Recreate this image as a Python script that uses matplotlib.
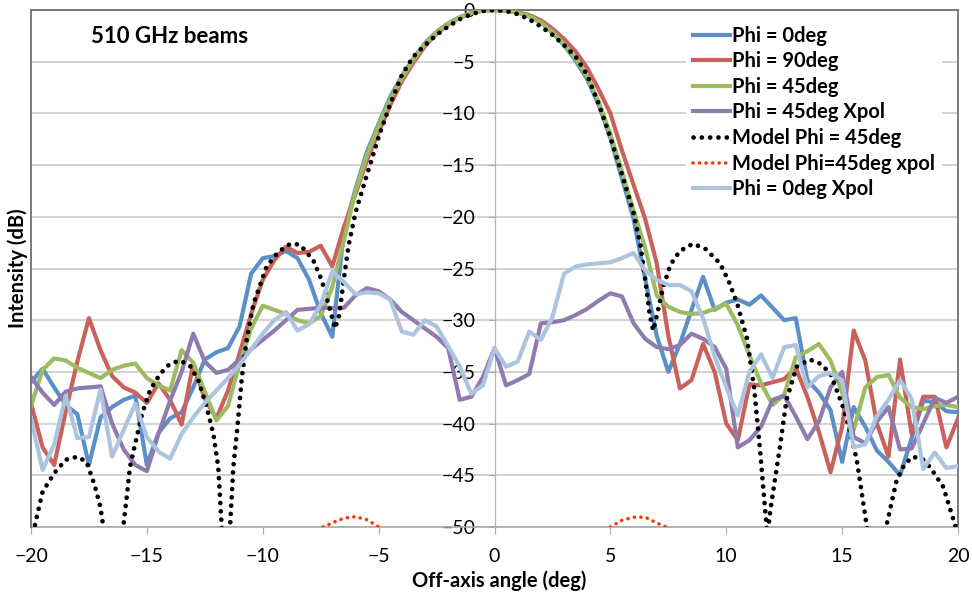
import numpy as np
import matplotlib
matplotlib.use("Agg")
import matplotlib.pyplot as plt

plt.rcParams['font.family'] = ['Lato', 'DejaVu Sans']

# measured angles: -20 .. 20 deg in 0.5 deg steps
angle = np.linspace(-20, 20, 81)

phi0 = [-36.0, -34.7, -36.5, -38.2, -39.1, -44.0, -39.4, -38.4, -37.7, -37.3,
        -44.0, -40.9, -39.5, -38.9, -36.5, -33.8, -33.1, -32.7, -30.6, -25.5,
        -24.0, -23.8, -23.3, -24.0, -26.1, -29.3, -31.6, -21.5, -17.3, -13.7,
        -11.0, -8.4, -6.4, -4.7, -3.2, -2.1, -1.3, -0.7, -0.3, -0.05,
        0.0,
        -0.05, -0.25, -0.6, -1.2, -2.2, -3.4, -4.9, -6.7, -9.2, -12.4,
        -16.3, -20.2, -26.0, -31.5, -35.0, -32.3, -29.0, -25.8, -29.0, -28.3,
        -28.0, -28.5, -27.6, -28.8, -30.0, -29.8, -35.8, -37.0, -38.7, -43.7,
        -38.4, -40.3, -42.6, -43.7, -45.0, -41.4, -37.8, -37.9, -38.8, -38.9]

phi90 = [-38.0, -42.3, -44.0, -38.8, -34.0, -29.8, -32.9, -35.4, -36.5, -37.0,
         -38.0, -36.1, -37.7, -40.1, -34.2, -37.6, -39.5, -36.8, -33.2, -29.4,
         -26.1, -24.2, -22.9, -23.5, -23.4, -22.8, -24.8, -21.0, -17.8, -14.5,
         -11.8, -9.2, -6.9, -5.1, -3.5, -2.3, -1.4, -0.75, -0.3, -0.05,
         0.0,
         -0.05, -0.2, -0.5, -1.0, -1.8, -2.8, -4.0, -5.6, -7.7, -10.0,
         -13.6, -16.9, -20.2, -24.5, -31.5, -36.6, -35.8, -32.3, -35.0, -40.0,
         -41.6, -36.2, -36.3, -36.0, -35.7, -34.6, -37.4, -40.8, -44.7, -40.3,
         -31.0, -33.9, -40.0, -43.2, -33.8, -41.0, -37.4, -37.4, -42.3, -39.5]

phi45 = [-38.3, -34.8, -33.7, -33.9, -34.6, -35.1, -35.6, -34.8, -34.4, -34.2,
         -35.6, -36.3, -36.8, -32.9, -34.1, -36.9, -39.7, -38.3, -34.2, -30.8,
         -28.6, -29.0, -29.4, -30.0, -30.3, -29.6, -26.8, -22.3, -17.5, -14.0,
         -11.2, -8.6, -6.6, -4.8, -3.3, -2.15, -1.3, -0.7, -0.3, -0.05,
         0.0,
         -0.05, -0.25, -0.6, -1.2, -2.1, -3.3, -4.7, -6.4, -8.9, -12.0,
         -15.6, -19.4, -23.0, -27.6, -28.7, -29.2, -29.4, -29.3, -28.9, -28.4,
         -30.5, -33.4, -36.1, -38.2, -37.2, -33.6, -33.0, -32.3, -33.9, -37.0,
         -40.6, -36.5, -35.5, -35.3, -37.5, -38.4, -38.6, -38.3, -38.2, -38.4]

phi45_xpol = [-35.5, -37.0, -38.2, -36.9, -36.6, -36.5, -36.4, -40.0, -42.5, -44.0,
              -44.6, -41.0, -37.8, -35.0, -31.3, -34.0, -35.1, -34.8, -33.8, -32.8,
              -31.9, -31.0, -30.0, -29.0, -28.9, -28.8, -28.8, -28.8, -27.6, -26.9,
              -27.2, -28.0, -29.2, -30.0, -30.8, -31.6, -32.7, -37.7, -37.4, -35.5,
              -32.7,
              -36.3, -35.8, -35.2, -30.3, -30.2, -30.0, -29.5, -28.9, -28.1, -27.4,
              -27.7, -30.3, -31.8, -32.6, -32.8, -32.4, -31.3, -31.8, -32.6, -34.7,
              -42.3, -41.6, -40.3, -37.7, -37.3, -39.3, -41.5, -39.8, -36.5, -35.0,
              -41.3, -41.9, -39.8, -38.4, -42.5, -42.4, -40.0, -37.5, -38.0, -37.4]

phi0_xpol = [-39.5, -44.5, -42.0, -37.3, -41.4, -41.3, -36.7, -43.2, -40.6, -38.1,
             -41.3, -42.7, -43.4, -41.0, -39.4, -38.0, -36.8, -35.6, -34.3, -32.8,
             -31.3, -30.0, -29.2, -31.0, -30.4, -28.5, -25.3, -26.3, -27.5, -27.3,
             -27.4, -28.0, -31.1, -31.4, -30.0, -30.6, -32.5, -34.5, -37.1, -36.3,
             -32.7,
             -34.5, -34.0, -31.1, -31.9, -29.7, -25.5, -24.8, -24.6, -24.5, -24.4,
             -24.0, -23.5, -25.2, -26.1, -26.6, -26.6, -27.2, -29.8, -33.5, -36.5,
             -39.2, -35.0, -33.3, -35.6, -32.6, -32.4, -36.5, -35.4, -35.1, -35.8,
             -42.3, -42.0, -39.3, -37.7, -35.8, -37.6, -44.4, -42.8, -44.3, -44.1]

# model curves (finer, irregular sampling)
model_x = [-20.0, -19.85, -19.5, -19.0, -18.5, -18.0, -17.6, -17.25, -17.0, -16.88,
           -16.45, -16.02, -15.87, -15.73, -15.5, -15.2, -14.87, -14.43, -14.0, -13.57,
           -13.14, -12.78, -12.42, -12.13, -11.92, -11.77, -11.6, -11.41, -11.27, -11.1,
           -10.9, -10.7, -10.4, -9.83, -9.33, -8.8, -8.39, -7.82, -7.46, -7.17,
           -6.88, -6.7, -6.5, -6.3, -6.0, -5.5, -5.0, -4.5, -4.0, -3.5,
           -3.0, -2.5, -2.0, -1.5, -1.0, -0.5, 0.0, 0.5, 1.0, 1.5,
           2.0, 2.5, 3.0, 3.5, 4.0, 4.5, 5.0, 5.5, 6.0, 6.3,
           6.5, 6.7, 6.85, 7.0, 7.28, 7.6, 8.0, 8.57, 9.1, 9.73,
           10.1, 10.46, 10.9, 11.2, 11.46, 11.74, 11.77, 11.82, 11.9, 12.32,
           12.6, 13.04, 13.6, 14.05, 14.48, 15.04, 15.35, 15.63, 16.07, 16.5,
           16.9, 17.35, 17.7, 18.06, 18.5, 18.79, 19.36, 19.9, 20.0]
model_y = [-53.0, -50.0, -46.6, -44.8, -43.5, -43.2, -43.7, -46.0, -48.1, -50.0,
           -62.0, -50.0, -47.1, -44.2, -41.9, -39.0, -36.8, -35.2, -34.2, -33.9,
           -34.4, -35.8, -38.4, -41.0, -44.2, -50.0, -62.0, -50.0, -44.2, -40.5,
           -35.5, -32.0, -28.4, -24.8, -23.4, -22.6, -22.7, -24.2, -26.1, -28.4,
           -30.8, -29.5, -26.0, -22.8, -19.6, -15.9, -12.3, -9.1, -6.3, -4.5,
           -3.4, -2.4, -1.6, -0.9, -0.4, -0.1, 0.0, -0.1, -0.4, -0.9,
           -1.6, -2.4, -3.4, -4.5, -6.3, -9.1, -12.3, -15.9, -19.6, -22.8,
           -26.0, -29.5, -31.0, -29.6, -26.8, -24.6, -23.3, -22.6, -23.1, -24.5,
           -26.2, -28.3, -31.8, -36.5, -42.6, -50.0, -55.0, -50.0, -48.4, -42.2,
           -37.7, -34.5, -33.8, -34.2, -35.1, -38.4, -40.8, -43.5, -50.0, -62.0,
           -50.0, -45.5, -43.9, -43.2, -43.5, -44.2, -46.1, -50.0, -51.0]

model_xpol_x = [-7.4, -7.0, -6.5, -6.0, -5.5, -5.0, np.nan, 5.0, 5.5, 6.0, 6.5, 7.0, 7.4]
model_xpol_y = [-50.0, -49.6, -49.15, -49.0, -49.3, -50.0, np.nan, -50.0, -49.35, -49.05, -49.05, -49.6, -50.0]

fig = plt.figure(figsize=(9.72, 5.96), dpi=100)
ax = fig.add_axes([31/972, 1 - 527/596, 927/972, 517/596])

lw = 3.0
ax.plot(angle, phi0, color='#5b8fc7', lw=lw, label='Phi = 0deg', zorder=3)
ax.plot(angle, phi90, color='#c9625c', lw=lw, label='Phi = 90deg', zorder=3)
ax.plot(angle, phi45, color='#9dbb61', lw=lw, label='Phi = 45deg', zorder=3)
ax.plot(angle, phi45_xpol, color='#8f7bae', lw=lw, label='Phi = 45deg Xpol', zorder=3)
ax.plot(model_x, model_y, color='black', lw=3.4, linestyle=(0, (0.01, 1.75)),
        dash_capstyle='round', label='Model Phi = 45deg', zorder=3)
ax.plot(model_xpol_x, model_xpol_y, color='#ff3300', lw=2.6, linestyle=(0, (0.01, 1.8)),
        dash_capstyle='round', label='Model Phi=45deg xpol', zorder=3)
ax.plot(angle, phi0_xpol, color='#adc4e0', lw=lw, label='Phi = 0deg Xpol', zorder=3)

ax.set_xlim(-20, 20)
ax.set_ylim(-50, 0)
ax.set_xticks(range(-20, 21, 5))
ax.set_yticks(range(-50, 1, 5))
ax.yaxis.grid(True, color='#d0d0d0', lw=1.3)
ax.set_axisbelow(True)

# y axis crosses at x = 0, frame drawn around the plot area
ax.spines['left'].set_position(('data', 0))
ax.spines['left'].set_color('#b5b5b5')
ax.spines['left'].set_linewidth(0.9)
ax.spines['bottom'].set_color('#a8a8a8')
ax.spines['bottom'].set_linewidth(1.2)
for s in ['top', 'right']:
    ax.spines[s].set_color('#707070')
    ax.spines[s].set_linewidth(1.3)
ax.plot([0, 0], [0, 1], transform=ax.transAxes, color='#707070', lw=1.3,
        clip_on=False, zorder=4)

ax.tick_params(axis='y', direction='out', length=4, color='#a8a8a8', pad=10,
               labelsize=14)
ax.tick_params(axis='x', direction='out', length=5, color='#a8a8a8', pad=10,
               labelsize=14)

leg = ax.legend(loc='upper left', bbox_to_anchor=(0.696, 1.003), frameon=True,
                facecolor='white', edgecolor='none', framealpha=1, fancybox=False,
                prop={'weight': 'bold', 'size': 14.5}, handlelength=1.8,
                handletextpad=0.12, labelspacing=0.28, borderpad=0.35)
leg.set_zorder(5)

ax.text(0.065, 0.948, '510 GHz beams', transform=ax.transAxes, ha='left',
        va='center', fontsize=16, fontweight='bold')
fig.text(18/972, 1 - 268/596, 'Intensity (dB)', rotation=90, ha='center',
         va='center', fontsize=14.5, fontweight='bold')
fig.text(499/972, 1 - 581/596, 'Off-axis angle (deg)', ha='center', va='center',
         fontsize=14.5, fontweight='bold')

fig.savefig('out.png', dpi=100)
